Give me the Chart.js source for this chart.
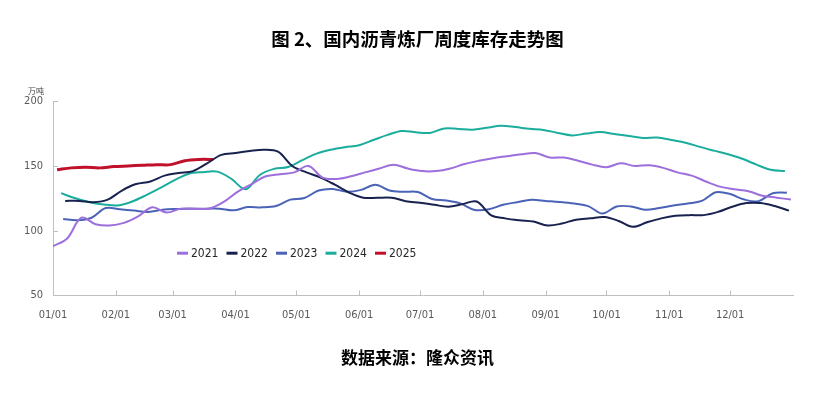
<!DOCTYPE html>
<html>
<head>
<meta charset="utf-8">
<script src="https://cdn.jsdelivr.net/npm/chart.js@4.4.1/dist/chart.umd.min.js"></script>
<style>
html, body { margin: 0; padding: 0; background: #fff; }
#wrap { width: 825px; height: 398px; }
</style>
</head>
<body>
<div id="wrap"><canvas id="c"></canvas></div>
<script>
// 月份刻度（一年中的第几天）
const monthDays = [0, 31, 59, 90, 120, 151, 181, 212, 243, 273, 304, 334];
const monthLabels = ['01/01', '02/01', '03/01', '04/01', '05/01', '06/01', '07/01', '08/01', '09/01', '10/01', '11/01', '12/01'];

const years = ['2021', '2022', '2023', '2024', '2025'];
const colors = ['#9d6fdc', '#18224f', '#4a63b7', '#1aad9e', '#c0102a'];
const startDays = [0, 6, 5, 4, 2]; // 每年第一个周度数据的日期

// 周度库存，万吨
const v2021 = [88, 94, 110, 105, 104, 106, 111, 118, 114, 117, 117, 117, 122, 130, 136, 142, 143.6, 145, 150, 141,
  140, 142, 145, 148, 151, 148, 146, 146, 148, 151.5, 154, 156, 157.5, 159, 160, 156.5, 156.5, 154, 151, 149,
  152, 150, 150.5, 148.5, 145, 142.5, 138, 134, 132, 130.5, 127, 125.5, 124];
const v2022 = [123, 123, 122, 124, 131, 136, 138, 142.5, 144.5, 146, 152, 158.5, 160, 161.5, 162.5, 161, 150, 145, 141, 135.5,
  129.5, 125.5, 125.4, 125.4, 122.8, 121.5, 120, 118.5, 120.5, 122.5, 112, 109.5, 108, 107, 104, 105.5, 108.5, 109.5, 110.5, 107.5,
  103, 106.5, 109.5, 111.5, 112, 112, 114.5, 118.5, 121.3, 121.3, 119, 115.5];
const v2023 = [109, 108, 110, 117.5, 116.5, 115.5, 114.5, 116.2, 116.8, 117, 117, 117, 115.7, 118.2, 118, 119, 124, 125.2, 131, 132.2,
  130, 131.5, 135.5, 131, 130, 129.8, 124.5, 123.3, 121, 116, 116.5, 120, 122, 123.8, 123, 122.2, 121, 119, 113.2, 118.7,
  118.7, 116.2, 117.5, 119.5, 121, 123, 129.7, 128.3, 124, 122.8, 128.9, 129.4];
const v2024 = [129, 125, 122, 120.3, 119.5, 122.5, 127.5, 133, 139, 144, 145.2, 145.6, 140, 132, 143, 147.7, 149.2, 154.5, 159.5, 162.5,
  164.5, 166, 170, 174, 177, 176, 175.5, 179, 178.5, 178, 179.5, 181, 180, 178.7, 177.8, 175.5, 173.6, 175, 176.2, 174.6,
  173.2, 171.6, 172, 170, 167.9, 164.7, 161.8, 159, 155.5, 151, 147, 146];
const v2025 = [147, 148.5, 149, 148.5, 149.5, 150, 150.5, 151, 151, 154, 155, 155];

const values = [v2021, v2022, v2023, v2024, v2025];

const narrow = '"Liberation Sans Narrow", "Arial Narrow", "DejaVu Sans Condensed", sans-serif';
const cjk = '"Noto Sans CJK SC", "Noto Sans", sans-serif';

const datasets = years.map((y, k) => ({
  label: y,
  data: values[k].map((v, i) => ({ x: startDays[k] + 7 * i, y: v })),
  borderColor: colors[k],
  backgroundColor: colors[k],
  borderWidth: k === 4 ? 3 : 2,
  pointRadius: 0,
  tension: 0.35,
  fill: false
}));

// 坐标轴内侧的小刻度
const innerTicks = {
  id: 'innerTicks',
  afterDraw(chart) {
    const { ctx, scales: { x, y } } = chart;
    ctx.save();
    ctx.strokeStyle = '#bfbfbf';
    ctx.lineWidth = 1;
    ctx.beginPath();
    x.ticks.forEach(t => {
      const px = Math.round(x.getPixelForValue(t.value)) + 0.5;
      ctx.moveTo(px, y.bottom);
      ctx.lineTo(px, y.bottom - 5);
    });
    y.ticks.forEach(t => {
      const py = Math.round(y.getPixelForValue(t.value)) + 0.5;
      ctx.moveTo(x.left, py);
      ctx.lineTo(x.left + 5, py);
    });
    ctx.stroke();
    ctx.restore();
  }
};

// 单位
const unitLabel = {
  id: 'unitLabel',
  afterDraw(chart) {
    const { ctx, scales: { y } } = chart;
    ctx.save();
    ctx.font = '8px ' + cjk;
    ctx.fillStyle = '#404040';
    ctx.textAlign = 'right';
    ctx.textBaseline = 'bottom';
    ctx.fillText('万吨', y.right - 9, y.top - 6);
    ctx.restore();
  }
};

// 图例放在绘图区内部
const innerLegend = {
  id: 'innerLegend',
  afterDatasetsDraw(chart) {
    const { ctx, chartArea } = chart;
    const x0 = chartArea.left + 124;
    const cy = chartArea.top + 152;
    ctx.save();
    ctx.font = '12px ' + narrow;
    ctx.textBaseline = 'middle';
    chart.data.datasets.forEach((ds, k) => {
      const cx = x0 + k * 49.5;
      ctx.fillStyle = ds.borderColor;
      ctx.fillRect(cx, cy - 1.5, 11, 3);
      ctx.fillStyle = '#262626';
      ctx.fillText(ds.label, cx + 14, cy + 1);
    });
    ctx.restore();
  }
};

const ctx = document.getElementById('c').getContext('2d');
new Chart(ctx, {
  type: 'line',
  data: { datasets },
  plugins: [innerTicks, unitLabel, innerLegend],
  options: {
    responsive: true,
    maintainAspectRatio: false,
    animation: false,
    layout: { padding: { left: 21, right: 11, top: 0, bottom: 0 } },
    plugins: {
      legend: { display: false },
      tooltip: { enabled: false },
      title: {
        display: true,
        text: '图 2、国内沥青炼厂周度库存走势图',
        color: '#000',
        font: { family: cjk, size: 18.5, weight: 'bold' },
        padding: { top: 28, bottom: 51 }
      },
      subtitle: {
        display: true,
        position: 'bottom',
        text: '数据来源：隆众资讯',
        color: '#000',
        font: { family: cjk, size: 17, weight: 'bold' },
        padding: { top: 13, bottom: 30 }
      }
    },
    scales: {
      x: {
        type: 'linear',
        min: 0,
        max: 365,
        afterBuildTicks: s => { s.ticks = monthDays.map(v => ({ value: v })); },
        ticks: {
          autoSkip: false,
          maxRotation: 0,
          padding: 13,
          color: '#595959',
          font: { family: narrow, size: 11 },
          callback: (v, i) => monthLabels[i]
        },
        grid: { display: true, drawOnChartArea: false, drawTicks: false },
        border: { display: true, color: '#bfbfbf' }
      },
      y: {
        min: 50,
        max: 200,
        afterFit: s => { s.width = 32; },
        ticks: {
          stepSize: 50,
          padding: 10,
          color: '#595959',
          font: { family: narrow, size: 11 }
        },
        grid: { display: true, drawOnChartArea: false, drawTicks: false },
        border: { display: true, color: '#bfbfbf' }
      },
      // 右侧留白，使标题居中位置与原图一致
      yr: {
        position: 'right',
        min: 50,
        max: 200,
        afterFit: s => { s.width = 21; },
        ticks: { display: false },
        grid: { display: false, drawTicks: false },
        border: { display: false }
      }
    }
  }
});
</script>
</body>
</html>
